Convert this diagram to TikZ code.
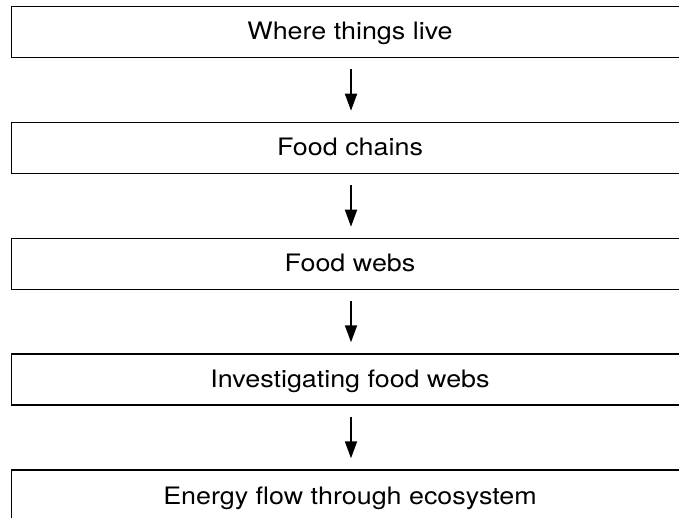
\documentclass[tikz,border=0pt]{standalone}
\usepackage{fontspec}
\setmainfont[FakeStretch=1.12]{TeX Gyre Heros}
\usetikzlibrary{arrows.meta}
\begin{document}
\begin{tikzpicture}[x=1pt,y=-1pt,
  stagebox/.style={draw=black, line width=1.2pt, rectangle, anchor=north west,
    minimum width=740pt, minimum height=51pt, inner sep=0pt},
  stagetext/.style={font=\fontsize{24}{28}\selectfont, inner sep=0pt, anchor=base},
  flowarrow/.style={line width=1.8pt, -{Triangle[length=17pt,width=12pt]},
    shorten <=11pt, shorten >=11pt}]
\useasboundingbox (0,0) rectangle (679,518);
\coordinate (ax) at (351,0);
\node[stagebox] (b1) at (11,5.7) {};
\node[stagebox] (b2) at (11,121.7) {};
\node[stagebox] (b3) at (11,237.7) {};
\node[stagebox] (b4) at (11,353.3) {};
\node[stagebox] (b5) at (11,469.3) {};
\node[stagetext] (t1) at (350,39.5) {Where things live};
\node[stagetext] (t2) at (350,155.5) {Food chains};
\node[stagetext] (t3) at (350,271.5) {Food webs};
\node[stagetext] (t4) at (350,387.3) {Investigating food webs};
\node[stagetext] (t5) at (350,504.3) {Energy flow through ecosystem};
\draw[flowarrow] (b1.south -| ax) -- (b2.north -| ax);
\draw[flowarrow] (b2.south -| ax) -- (b3.north -| ax);
\draw[flowarrow] (b3.south -| ax) -- (b4.north -| ax);
\draw[flowarrow] (b4.south -| ax) -- (b5.north -| ax);
\end{tikzpicture}
\end{document}
